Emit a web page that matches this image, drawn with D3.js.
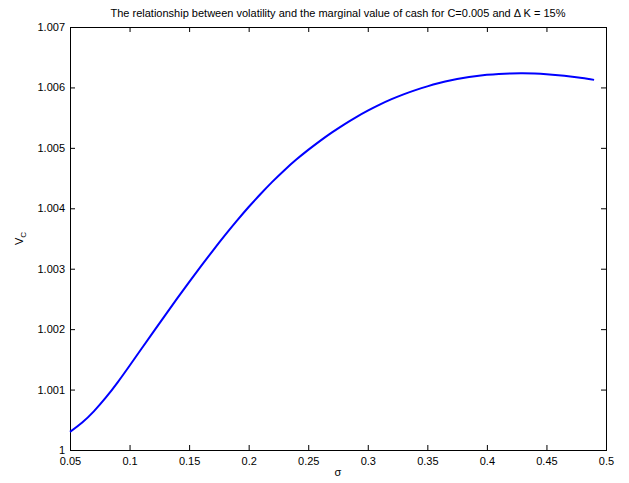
<!DOCTYPE html>
<html>
<head>
<meta charset="utf-8">
<script src="https://cdn.jsdelivr.net/npm/d3@7"></script>
<style>
  body { margin: 0; background: #fff; }
  svg { display: block; font-family: "Liberation Sans", Arial, Helvetica, sans-serif; }
  .axis text { font-size: 11px; fill: #000; }
  .axis line, .axis path { stroke: #000; }
</style>
</head>
<body>
<div class="chart"></div>
<script>
// sigma (volatility) values and the marginal value of cash
var sigma = [0.05, 0.06, 0.07, 0.08, 0.09, 0.10, 0.11, 0.12, 0.13, 0.14,
             0.15, 0.16, 0.17, 0.18, 0.19, 0.20, 0.21, 0.22, 0.23, 0.24,
             0.25, 0.26, 0.27, 0.28, 0.29, 0.30, 0.31, 0.32, 0.33, 0.34,
             0.35, 0.36, 0.37, 0.38, 0.39, 0.40, 0.41, 0.42, 0.43, 0.44,
             0.45, 0.46, 0.47, 0.48, 0.49];
var vc = [1.000300, 1.000450, 1.000640, 1.000865, 1.001120, 1.001395, 1.001675, 1.001955, 1.002233, 1.002508,
          1.002778, 1.003043, 1.003301, 1.003551, 1.003791, 1.004021, 1.004236, 1.004441, 1.004631, 1.004806,
          1.004966, 1.005116, 1.005256, 1.005386, 1.005506, 1.005616, 1.005716, 1.005806, 1.005886, 1.005956,
          1.006018, 1.006072, 1.006118, 1.006156, 1.006186, 1.006208, 1.006223, 1.006231, 1.006233, 1.006229,
          1.006219, 1.006203, 1.006182, 1.006156, 1.006125];
var xTicks = [0.05, 0.1, 0.15, 0.2, 0.25, 0.3, 0.35, 0.4, 0.45, 0.5];
var yTicks = [1, 1.001, 1.002, 1.003, 1.004, 1.005, 1.006, 1.007];

var width = 629, height = 483;
var margin = {left: 70, top: 27, right: 23, bottom: 33};
var w = width - margin.left - margin.right;
var h = height - margin.top - margin.bottom;

var svg = d3.select("div.chart")
	.append("svg")
	.attr("width", width)
	.attr("height", height);

var plot = svg.append("g")
	.attr("transform", "translate(" + margin.left + "," + margin.top + ")");

var xScale = d3.scaleLinear().domain([0.05, 0.5]).range([0, w]);
var yScale = d3.scaleLinear().domain([1, 1.007]).range([h, 0]);

var fmt = function(d){ return String(+d.toFixed(3)); };

// bottom and left axes carry labels, ticks point inward
plot.append("g")
	.attr("class", "axis")
	.attr("transform", "translate(0," + h + ")")
	.call(d3.axisBottom(xScale).tickValues(xTicks).tickFormat(fmt).tickSizeInner(-5).tickSizeOuter(0).tickPadding(7));

plot.append("g")
	.attr("class", "axis")
	.call(d3.axisLeft(yScale).tickValues(yTicks).tickFormat(fmt).tickSizeInner(-5).tickSizeOuter(0).tickPadding(5));

// mirrored ticks on top and right (box on)
plot.append("g")
	.attr("class", "axis")
	.call(d3.axisTop(xScale).tickValues(xTicks).tickFormat("").tickSizeInner(-5).tickSizeOuter(0));

plot.append("g")
	.attr("class", "axis")
	.attr("transform", "translate(" + w + ",0)")
	.call(d3.axisRight(yScale).tickValues(yTicks).tickFormat("").tickSizeInner(-5).tickSizeOuter(0));

plot.append("rect")
	.attr("x", 0.5)
	.attr("y", 0.5)
	.attr("width", w)
	.attr("height", h)
	.attr("fill", "none")
	.attr("stroke", "#000")
	.attr("stroke-width", 1);

var line = d3.line()
	.x(function(d, i){ return xScale(sigma[i]); })
	.y(function(d){ return yScale(d); })
	.curve(d3.curveNatural);

plot.append("path")
	.datum(vc)
	.attr("d", line)
	.attr("fill", "none")
	.attr("stroke", "#0000ff")
	.attr("stroke-width", 2);

// title
svg.append("text")
	.attr("x", margin.left + w / 2)
	.attr("y", 17)
	.attr("text-anchor", "middle")
	.style("font-size", "11px")
	.text("The relationship between volatility and the marginal value of cash for C=0.005 and \u0394 K = 15%");

// x label
svg.append("text")
	.attr("x", margin.left + w / 2)
	.attr("y", 476)
	.attr("text-anchor", "middle")
	.style("font-size", "11px")
	.text("\u03c3");

// y label with subscript
var ylab = svg.append("text")
	.attr("transform", "translate(23," + (margin.top + h / 2) + ") rotate(-90)")
	.attr("text-anchor", "middle")
	.style("font-size", "11px");
ylab.append("tspan").text("V");
ylab.append("tspan").attr("dy", 3).style("font-size", "8px").text("C");
</script>
</body>
</html>
